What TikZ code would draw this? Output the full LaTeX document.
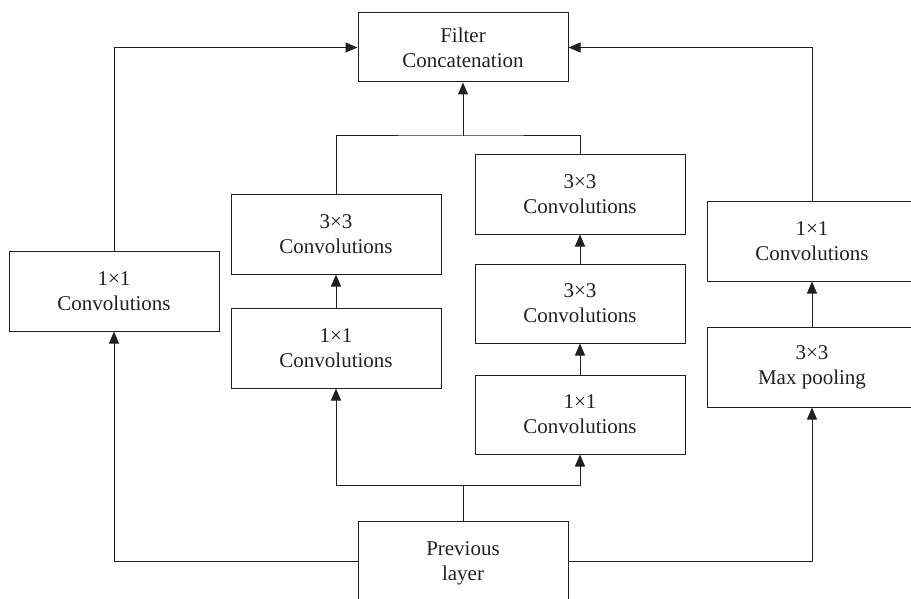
\documentclass[tikz,border=0pt]{standalone}
\usepackage{fontspec}
\setmainfont{Liberation Serif}
\usetikzlibrary{arrows.meta}
\definecolor{ink}{HTML}{231F20}
\begin{document}
\begin{tikzpicture}[x=1pt,y=-1pt,
  box/.style={draw=ink,line width=1pt,minimum width=210pt,minimum height=79pt,
    inner sep=0pt,align=center,text=ink,font=\fontsize{21}{25}\selectfont},
  conn/.style={draw=ink,line width=1pt},
  arr/.style={conn,-{Triangle[length=12pt,width=10pt]}}]
\useasboundingbox (0,0) rectangle (911,599);
\clip (0,0) rectangle (911,599);
\node[box,minimum height=69pt] (fc) at (463,47.5) {Filter\\Concatenation};
\node[box,minimum height=80pt] (l1) at (114,291) {1×1\\Convolutions};
\node[box] (m3) at (336,234.5) {3×3\\Convolutions};
\node[box,minimum height=80pt] (m1) at (336,348) {1×1\\Convolutions};
\node[box] (r3a) at (580,194.5) {3×3\\Convolutions};
\node[box] (r3b) at (580,303.5) {3×3\\Convolutions};
\node[box] (r1) at (580,414.5) {1×1\\Convolutions};
\node[box] (p1) at (812,241.5) {1×1\\Convolutions};
\node[box,minimum height=80pt] (mp) at (812,367) {3×3\\Max pooling};
\node[box,minimum height=80pt,text depth=0pt] (prev) at (463,561) {Previous\\layer};
\coordinate (jt) at (463,136);
\coordinate (jb) at (463,485);
% top connections
\draw[arr] (l1.north) |- (fc.west);
\draw[arr] (p1.north) |- (fc.east);
\draw[conn] (m3.north) |- (jt) -| (r3a.north);
\draw[arr] (jt) -- (fc.south);
% stacks
\draw[arr] (m1.north) -- (m3.south);
\draw[arr] (r1.north) -- (r3b.south);
\draw[arr] (r3b.north) -- (r3a.south);
\draw[arr] (mp.north) -- (p1.south);
% bottom connections
\draw[conn] (prev.north) -- (jb);
\draw[arr] (jb) -| (m1.south);
\draw[arr] (jb) -| (r1.south);
\draw[arr] (prev.west) -| (l1.south);
\draw[arr] (prev.east) -| (mp.south);
\end{tikzpicture}
\end{document}
